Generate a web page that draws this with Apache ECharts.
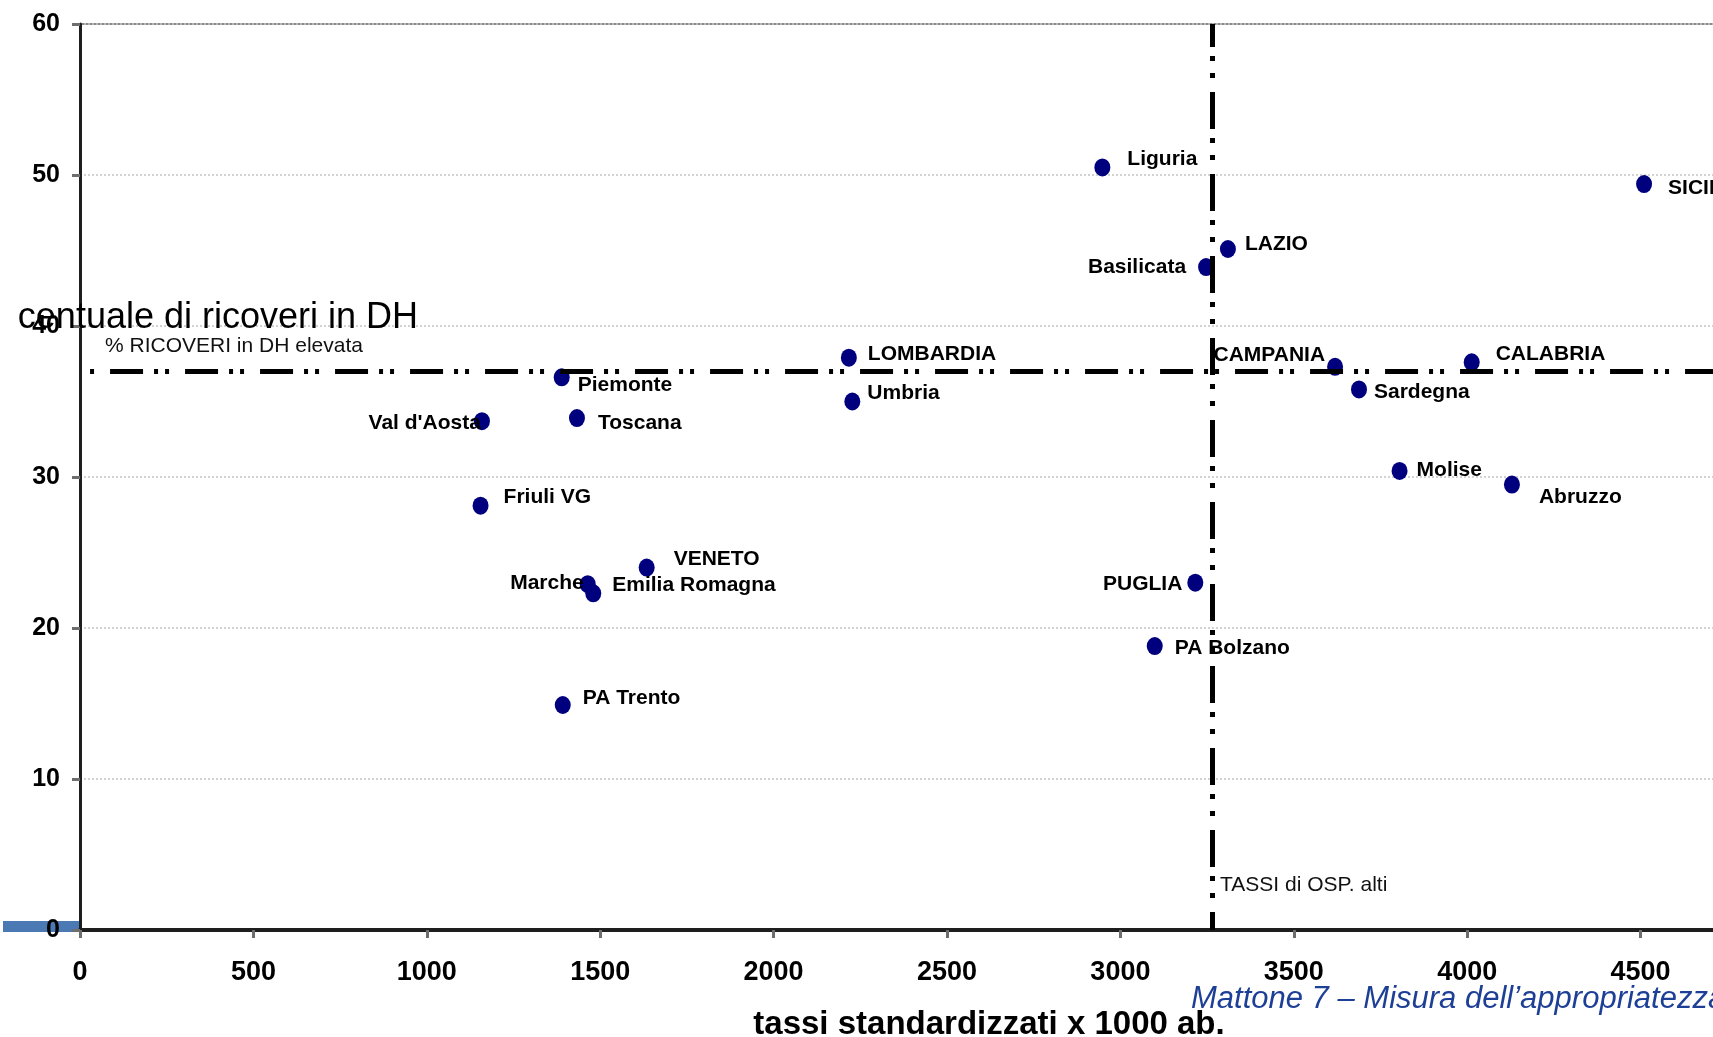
<!DOCTYPE html>
<html>
<head>
<meta charset="utf-8">
<script src="https://cdn.jsdelivr.net/npm/echarts@6/dist/echarts.min.js"></script>
<style>
  html, body { margin: 0; padding: 0; background: #fff; }
  #chart { width: 1713px; height: 1037px; }
</style>
</head>
<body>
<div id="chart"></div>
<script>
// Regioni: tasso standardizzato di ospedalizzazione (x) e % ricoveri in DH (y)
const regions = ['Liguria', 'SICILIA', 'LAZIO', 'Basilicata', 'LOMBARDIA', 'CAMPANIA', 'CALABRIA',
  'Piemonte', 'Umbria', 'Sardegna', "Val d'Aosta", 'Toscana', 'Molise', 'Abruzzo', 'Friuli VG',
  'VENETO', 'Marche', 'Emilia Romagna', 'PUGLIA', 'PA Bolzano', 'PA Trento'];
const tassi = [2948, 4510, 3310, 3247, 2217, 3619, 4013,
  1389, 2227, 3688, 1159, 1433, 3805, 4129, 1155,
  1634, 1464, 1480, 3216, 3099, 1392];
const percDH = [50.5, 49.4, 45.1, 43.9, 37.9, 37.3, 37.6,
  36.6, 35.0, 35.8, 33.7, 33.9, 30.4, 29.5, 28.1,
  24.0, 22.9, 22.3, 23.0, 18.8, 14.9];

// Soglie (valori di riferimento)
const sogliaTassi = 3265;
const sogliaDH = 37;
const xMax = 5000;

// Posizione delle etichette rispetto al punto: [allineamento, dx, dy]
const labelLayout = {
  'Liguria': ['left', 25, -8],
  'SICILIA': ['left', 24, 4],
  'LAZIO': ['left', 17, -5],
  'Basilicata': ['right', -20, 0],
  'LOMBARDIA': ['left', 19, -4],
  'CAMPANIA': ['right', -10, -12],
  'CALABRIA': ['left', 24, -8],
  'Piemonte': ['left', 16, 8],
  'Umbria': ['left', 15, -8],
  'Sardegna': ['left', 15, 3],
  "Val d'Aosta": ['right', -1, 2],
  'Toscana': ['left', 21, 5],
  'Molise': ['left', 17, -1],
  'Abruzzo': ['left', 27, 13],
  'Friuli VG': ['left', 23, -8],
  'VENETO': ['left', 27, -8],
  'Marche': ['right', -4, -1],
  'Emilia Romagna': ['left', 19, -8],
  'PUGLIA': ['right', -13, 2],
  'PA Bolzano': ['left', 20, 2],
  'PA Trento': ['left', 20, -7]
};

const FONT = "'Liberation Sans', Arial, sans-serif";

const points = regions.map((name, i) => {
  const l = labelLayout[name];
  return {
    name: name,
    value: [tassi[i], percDH[i]],
    label: { align: l[0], offset: [l[1], l[2]] }
  };
});

const chart = echarts.init(document.getElementById('chart'), null, { renderer: 'canvas' });

chart.setOption({
  backgroundColor: '#ffffff',
  animation: false,
  grid: {
    left: 80, top: 24, width: 1734, height: 906,
    outerBoundsMode: 'none',
    containLabel: false,
    show: true, borderColor: '#8a8a8a', borderWidth: 2, backgroundColor: 'transparent'
  },
  xAxis: {
    type: 'value', min: 0, max: xMax, interval: 500,
    axisLine: { show: true, onZero: false, lineStyle: { color: '#1e1e1e', width: 4 } },
    axisTick: { show: true, length: 8, lineStyle: { color: '#6e6e6e', width: 3 } },
    axisLabel: {
      fontFamily: FONT, fontSize: 27, fontWeight: 'bold', color: '#000', margin: 29,
      formatter: v => String(v)
    },
    splitLine: { show: false }
  },
  yAxis: {
    type: 'value', min: 0, max: 60, interval: 10,
    axisLine: { show: true, onZero: false, lineStyle: { color: '#1e1e1e', width: 3 } },
    axisTick: { show: true, length: 8, lineStyle: { color: '#6e6e6e', width: 3 } },
    axisLabel: {
      fontFamily: FONT, fontSize: 25, fontWeight: 'bold', color: '#000', margin: 20,
      formatter: v => String(v)
    },
    splitLine: { show: true, lineStyle: { color: '#c4c4c4', width: 1.5, type: [2, 2] } }
  },
  series: [
    {
      // linee di soglia (tratto-punto-punto)
      type: 'scatter',
      data: [],
      z: 1,
      silent: true,
      markLine: {
        silent: true,
        symbol: 'none',
        label: { show: false },
        animation: false,
        data: [
          [
            { coord: [29, sogliaDH], lineStyle: { color: '#000', width: 5, type: [4, 16, 33, 11, 4, 7], cap: 'butt' } },
            { coord: [xMax, sogliaDH] }
          ],
          { xAxis: sogliaTassi, lineStyle: { color: '#000', width: 5, type: [37, 14, 5, 12, 5, 9], dashOffset: 19, cap: 'butt' } }
        ]
      }
    },
    {
      type: 'scatter',
      z: 3,
      symbol: 'circle',
      symbolSize: [16, 18],
      itemStyle: { color: '#00007f', opacity: 1 },
      label: {
        show: true,
        position: 'inside',
        verticalAlign: 'middle',
        formatter: p => p.name,
        fontFamily: FONT,
        fontSize: 21,
        fontWeight: 'bold',
        color: '#000',
        textBorderWidth: 0
      },
      data: points
    }
  ],
  graphic: [
    {
      type: 'rect', z: -1,
      shape: { x: 3, y: 921, width: 77, height: 11 },
      style: { fill: '#4a79b3' }
    },
    {
      type: 'text', z: 10,
      style: {
        text: 'Percentuale di ricoveri in DH', x: 418, y: 318,
        align: 'right', verticalAlign: 'middle',
        font: "normal 36px 'Liberation Sans', Arial, sans-serif", fill: '#000'
      }
    },
    {
      // bordo sinistro che taglia il titolo dell'asse
      type: 'rect', z: 11,
      shape: { x: 0, y: 292, width: 18, height: 48 },
      style: { fill: '#ffffff' }
    },
    {
      type: 'text', z: 10,
      style: {
        text: '% RICOVERI in DH elevata', x: 105, y: 346,
        align: 'left', verticalAlign: 'middle',
        font: "normal 21px 'Liberation Sans', Arial, sans-serif", fill: '#111'
      }
    },
    {
      type: 'text', z: 10,
      style: {
        text: 'TASSI di OSP. alti', x: 1220, y: 885,
        align: 'left', verticalAlign: 'middle',
        font: "normal 21px 'Liberation Sans', Arial, sans-serif", fill: '#111'
      }
    },
    {
      type: 'text', z: 10,
      style: {
        text: 'tassi standardizzati x 1000 ab.', x: 989, y: 1025,
        align: 'center', verticalAlign: 'middle',
        font: "bold 33px 'Liberation Sans', Arial, sans-serif", fill: '#000'
      }
    },
    {
      type: 'text', z: 10,
      style: {
        text: 'Mattone 7 \u2013 Misura dell\u2019appropriatezza', x: 1191, y: 999,
        align: 'left', verticalAlign: 'middle',
        font: "italic 31px 'Liberation Sans', Arial, sans-serif", fill: '#1d3f95'
      }
    }
  ]
});
</script>
</body>
</html>
